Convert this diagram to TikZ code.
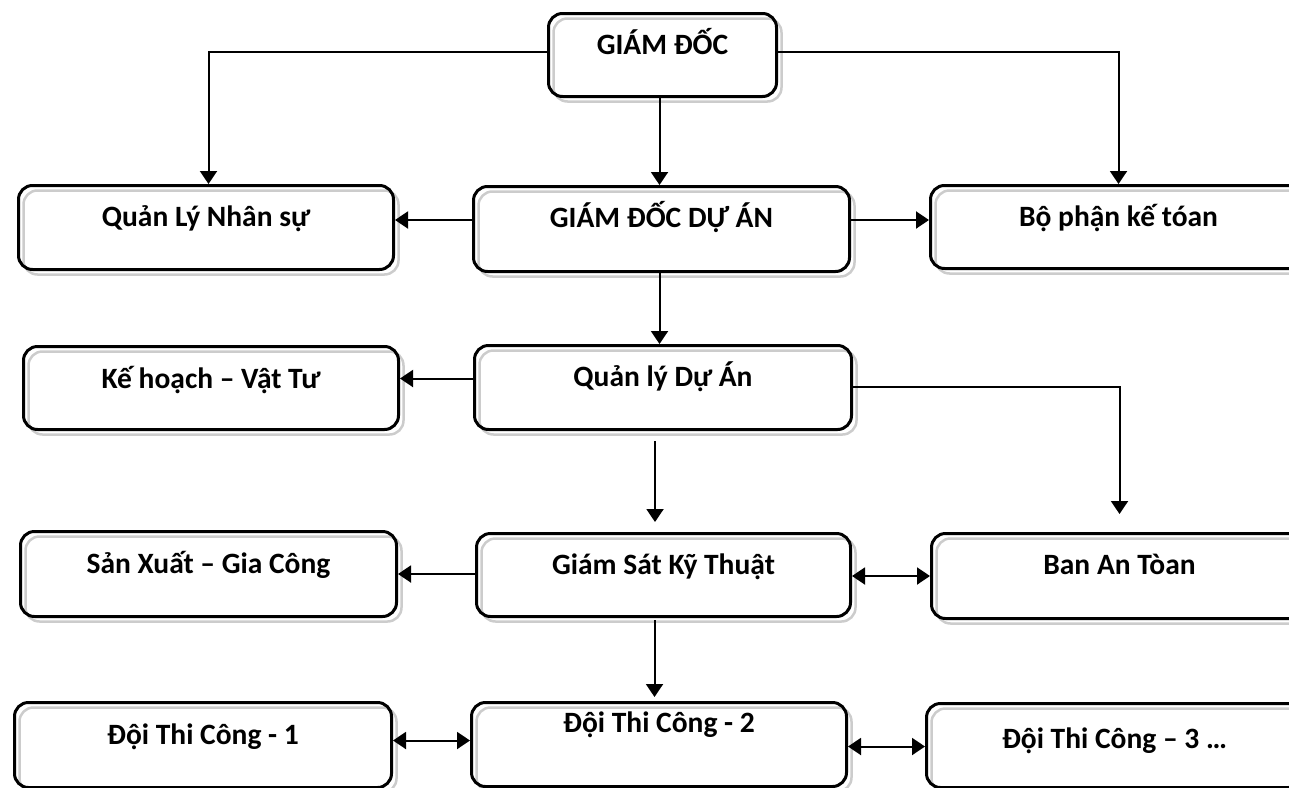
\documentclass[tikz,border=0pt]{standalone}
\usepackage{fontspec}
\setmainfont{Carlito}
\usetikzlibrary{arrows.meta}
\begin{document}
\begin{tikzpicture}[x=1pt,y=-1pt,
  box/.style={draw, line width=3pt, rounded corners=14pt, anchor=north west,
    inner sep=0pt, font=\fontsize{29.5}{34}\selectfont\bfseries, text height=41pt,
    preaction={draw=black!20, line width=2.5pt, transform canvas={xshift=5pt,yshift=-5pt}}},
  arr/.style={line width=2pt, -{Triangle[length=13pt,width=17pt]}},
  darr/.style={line width=2pt, {Triangle[length=13pt,width=17pt]}-{Triangle[length=13pt,width=17pt]}}]
\useasboundingbox (0,0) rectangle (1289,787);
\clip (0,0) rectangle (1289,787);
% boxes
\node[box, minimum width=228pt, text depth=42pt] (gd) at (547,12) {GIÁM ĐỐC};
\node[box, minimum width=375pt, text depth=43pt] (qlns) at (17,184) {Quản Lý Nhân sự};
\node[box, minimum width=376pt, text depth=44pt] (gdda) at (472,185) {GIÁM ĐỐC DỰ ÁN};
\node[box, minimum width=376pt, text depth=42pt] (bpkt) at (929,184) {Bộ phận kế tóan};
\node[box, minimum width=375pt, text depth=41pt, text height=42pt] (khvt) at (22,345) {Kế hoạch – Vật Tư};
\node[box, minimum width=377pt, text depth=43pt] (qlda) at (473,344) {Quản lý Dự Án};
\node[box, minimum width=376pt, text depth=43pt, text height=42pt] (sxgc) at (19,530) {Sản Xuất – Gia Công};
\node[box, minimum width=374pt, text depth=42pt] (gskt) at (475,532) {Giám Sát Kỹ Thuật};
\node[box, minimum width=376pt, text depth=44pt] (ban) at (930,532) {Ban An Tòan};
\node[box, minimum width=377pt, text depth=43pt, text height=42pt] (dtc1) at (13,701) {Đội Thi Công - 1};
\node[box, minimum width=375pt, text depth=54pt, text height=30pt] (dtc2) at (470,701) {Đội Thi Công - 2};
\node[box, minimum width=376pt, text depth=39pt, text height=45pt] (dtc3) at (925,702) {Đội Thi Công – 3 …};
% connectors
\coordinate (g1) at ([yshift=3.5pt]gd.west);
\coordinate (g2) at ([yshift=3.5pt]gd.east);
\coordinate (g3) at ([xshift=-3pt]gd.south);
\draw[arr] (g1) -| ([xshift=2.5pt]qlns.north);
\draw[arr] (g2) -| (bpkt.north);
\draw[arr] (g3) -- (g3 |- gdda.north);
\coordinate (a1) at ([yshift=9pt]gdda.west);
\coordinate (a2) at ([yshift=9pt]gdda.east);
\coordinate (a3) at ([xshift=-2pt]gdda.south);
\draw[arr] (a1) -- (a1 -| qlns.east);
\draw[arr] (a2) -- (a2 -| bpkt.west);
\draw[arr] (a3) -- (a3 |- qlda.north);
\coordinate (q1) at ([yshift=9pt]qlda.west);
\coordinate (q2) at ([yshift=1pt]qlda.east);
\coordinate (q3) at ([xshift=-8pt]qlda.south);
\draw[arr] (q1) -- (q1 -| khvt.east);
\draw[arr, shorten >=18pt] (q2) -| (ban.north);
\draw[arr, shorten <=10pt, shorten >=10pt] (q3) -- (q3 |- gskt.north);
\coordinate (s1) at ([yshift=1pt]gskt.west);
\coordinate (s2) at ([yshift=-1pt]gskt.east);
\coordinate (s3) at ([xshift=-9pt]gskt.south);
\draw[arr] (s1) -- (s1 -| sxgc.east);
\draw[darr] (s2) -- (s2 -| ban.west);
\draw[arr, shorten <=2pt, shorten >=4pt] (s3) -- (s3 |- dtc2.north);
\coordinate (d1) at ([yshift=4.5pt]dtc1.east);
\coordinate (d2) at ([yshift=-2pt]dtc2.east);
\draw[darr] (d1) -- (d1 -| dtc2.west);
\draw[darr] (d2) -- (d2 -| dtc3.west);
\end{tikzpicture}
\end{document}
